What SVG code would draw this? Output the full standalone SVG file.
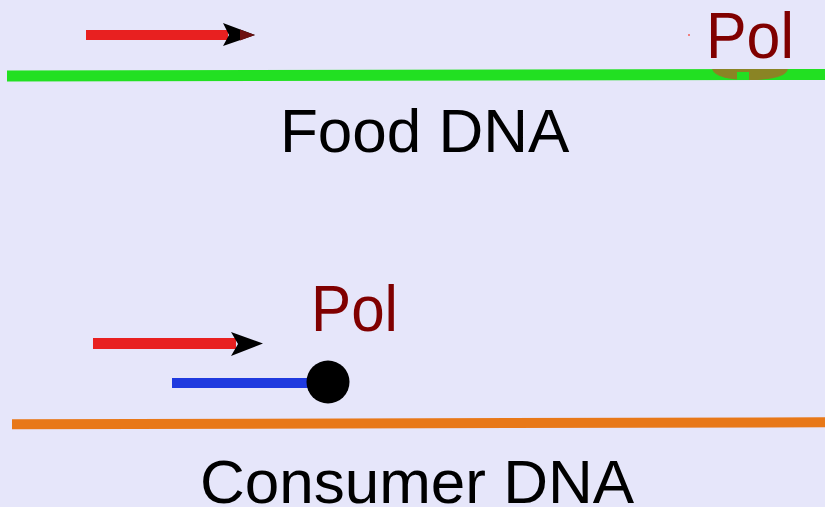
<svg xmlns="http://www.w3.org/2000/svg" width="825" height="507" viewBox="0 0 825 507">
<style>
.lbl{font-family:"Liberation Sans",Arial,sans-serif;font-size:62px;fill:#000}
.pol{font-family:"Liberation Sans",Arial,sans-serif;font-size:65px;fill:#800000}
</style>
<rect width="825" height="507" fill="#e6e6fa"/>
<g id="food-dna">
<line x1="7" y1="76" x2="825" y2="74.5" stroke="#22e022" stroke-width="11"/>
<path d="M712,69 Q716,80 750,80 Q785,80 788,69 Z" fill="#8a8424"/>
<rect x="737" y="72" width="12" height="8" fill="#22e022"/>
<text class="lbl" x="280" y="152">Food DNA</text>
</g>
<g id="food-pol">
<rect x="688" y="34" width="2" height="2" fill="#f08080"/>
<text class="pol" x="706" y="58" textLength="88" lengthAdjust="spacingAndGlyphs">Pol</text>
</g>
<g id="consumer-dna">
<line x1="12" y1="424.2" x2="825" y2="422.3" stroke="#e87818" stroke-width="10"/>
<text class="lbl" x="200" y="503">Consumer DNA</text>
</g>
<g id="consumer-pol">
<text class="pol" x="311" y="331" textLength="87" lengthAdjust="spacingAndGlyphs">Pol</text>
</g>
<g id="primer-bound">
<line x1="172" y1="383" x2="312" y2="383" stroke="#1f3adf" stroke-width="10"/>
<circle cx="328" cy="382" r="21.5" fill="#000"/>
</g>
<g id="connectors">
<line x1="86" y1="35" x2="228" y2="35" stroke="#e82020" stroke-width="10"/>
<path d="M223,23 L255,35 L223,46 L229,35 Z" fill="#000"/>
<path d="M240,29.6 L255,35 L240,40.4 Z" fill="#6e1010"/>
<line x1="93" y1="343.5" x2="236" y2="343.5" stroke="#e82020" stroke-width="11"/>
<path d="M231,332 L263,343.5 L231,356 L238,344 Z" fill="#000"/>
</g>
</svg>
